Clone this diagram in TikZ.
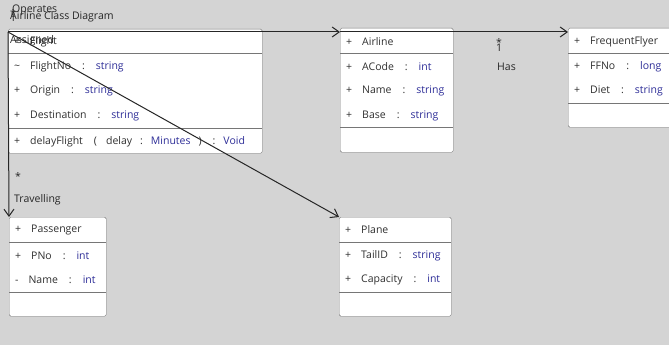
\documentclass[tikz,border=0pt]{standalone}
\usepackage{fontspec}
\setmainfont{Open Sans}
\usetikzlibrary{arrows.meta,positioning}

\definecolor{canvas}{HTML}{D4D4D4}
\definecolor{typeblue}{HTML}{2E2E98}
\definecolor{boxline}{HTML}{767676}
\definecolor{membertext}{HTML}{303030}

\newcommand{\attr}[3]{#1\hspace{10pt}#2\hspace{11pt}:\hspace{11pt}\textcolor{typeblue}{#3}}

\tikzset{
  classbox/.style={draw=boxline, fill=white, rounded corners=1.5pt, anchor=north west, inner sep=0pt},
  member/.style={anchor=west, inner sep=0pt, text=membertext, font=\fontsize{10.5}{12}\selectfont},
  rolelabel/.style={anchor=west, inner sep=0pt, text=black!85, font=\fontsize{10.5}{12}\selectfont},
  assoc/.style={draw=black!85, -{Straight Barb[length=7pt,width=10pt]}, line width=1pt}
}

\begin{document}
\begin{tikzpicture}[x=1pt,y=-1pt]
  \fill[canvas] (0,0) rectangle (669,345);
  \useasboundingbox (0,0) rectangle (669,345);

  \node[rolelabel] (title) at (10,17) {Airline Class Diagram};

  % Flight
  \node[classbox, minimum width=254pt, minimum height=124pt] (flight) at (8,29) {};
  \draw[boxline] ([yshift=-24pt]flight.north west) -- ([yshift=-24pt]flight.north east);
  \draw[boxline] ([yshift=-99pt]flight.north west) -- ([yshift=-99pt]flight.north east);
  \node[member] (flightname) at (14,42) {+\hspace{10pt}Flight};
  \node[member] (flightno) at (14,67) {\attr{\textasciitilde}{FlightNo}{string}};
  \node[member] (origin) at (14,91) {\attr{+}{Origin}{string}};
  \node[member] (dest) at (14,116) {\attr{+}{Destination}{string}};
  \node[member] (delay) at (14,142) {+\hspace{10pt}delayFlight\hspace{11pt}(\hspace{9pt}delay\hspace{8pt}:\hspace{8pt}\textcolor{typeblue}{Minutes}\hspace{8pt})\hspace{11pt}:\hspace{8pt}\textcolor{typeblue}{Void}};

  % Airline
  \node[classbox, minimum width=113pt, minimum height=124pt] (airline) at (340,28) {};
  \draw[boxline] ([yshift=-25pt]airline.north west) -- ([yshift=-25pt]airline.north east);
  \draw[boxline] ([yshift=-99pt]airline.north west) -- ([yshift=-99pt]airline.north east);
  \node[member] (airlinename) at (346,42) {+\hspace{10pt}Airline};
  \node[member] (acode) at (346,67) {\attr{+}{ACode}{int}};
  \node[member] (aname) at (346,91) {\attr{+}{Name}{string}};
  \node[member] (base) at (346,116) {\attr{+}{Base}{string}};

  % FrequentFlyer
  \node[classbox, minimum width=110pt, minimum height=99pt] (flyer) at (568,28) {};
  \draw[boxline] ([yshift=-25pt]flyer.north west) -- ([yshift=-25pt]flyer.north east);
  \draw[boxline] ([yshift=-75pt]flyer.north west) -- ([yshift=-75pt]flyer.north east);
  \node[member] (flyername) at (574,42) {+\hspace{10pt}FrequentFlyer};
  \node[member] (ffno) at (574,67) {\attr{+}{FFNo}{long}};
  \node[member] (diet) at (574,91) {\attr{+}{Diet}{string}};

  % Passenger
  \node[classbox, minimum width=97pt, minimum height=99pt] (passenger) at (9,217) {};
  \draw[boxline] ([yshift=-25pt]passenger.north west) -- ([yshift=-25pt]passenger.north east);
  \draw[boxline] ([yshift=-75pt]passenger.north west) -- ([yshift=-75pt]passenger.north east);
  \node[member] (passname) at (15,230) {+\hspace{10pt}Passenger};
  \node[member] (pno) at (15,256) {\attr{+}{PNo}{int}};
  \node[member] (pname) at (15,280) {\attr{-}{Name}{int}};

  % Plane
  \node[classbox, minimum width=112pt, minimum height=99pt] (plane) at (339,217) {};
  \draw[boxline] ([yshift=-25pt]plane.north west) -- ([yshift=-25pt]plane.north east);
  \draw[boxline] ([yshift=-75pt]plane.north west) -- ([yshift=-75pt]plane.north east);
  \node[member] (planename) at (345,230) {+\hspace{10pt}Plane};
  \node[member] (tailid) at (345,256) {\attr{+}{TailID}{string}};
  \node[member] (capacity) at (345,280) {\attr{+}{Capacity}{int}};

  % associations
  \coordinate (flightcorner) at ([yshift=-3pt]flight.north west);
  \draw[assoc] (flightcorner) -- ([yshift=-4pt]airline.north west);
  \draw[assoc] ([yshift=-4pt]airline.north west) -- ([yshift=-4pt]flyer.north west);
  \draw[assoc] (flightcorner) -- (passenger.north west);
  \draw[assoc] (flightcorner) -- (plane.north west);

  \node[rolelabel] (operates) at (12,10) {Operates};
  \node[rolelabel] (opmany) at (10,14) {*};
  \node[rolelabel] (opone) at (10,18) {1};
  \node[rolelabel] (assigned) at (10,41) {Assigned};
  \node[rolelabel] (hasmany) at (496,43) {*};
  \node[rolelabel] (hasone) at (496,48) {1};
  \node[rolelabel] (has) at (497,67) {Has};
  \node[rolelabel] (travelmany) at (15,177) {*};
  \node[rolelabel] (travelling) at (14,200) {Travelling};
\end{tikzpicture}
\end{document}
